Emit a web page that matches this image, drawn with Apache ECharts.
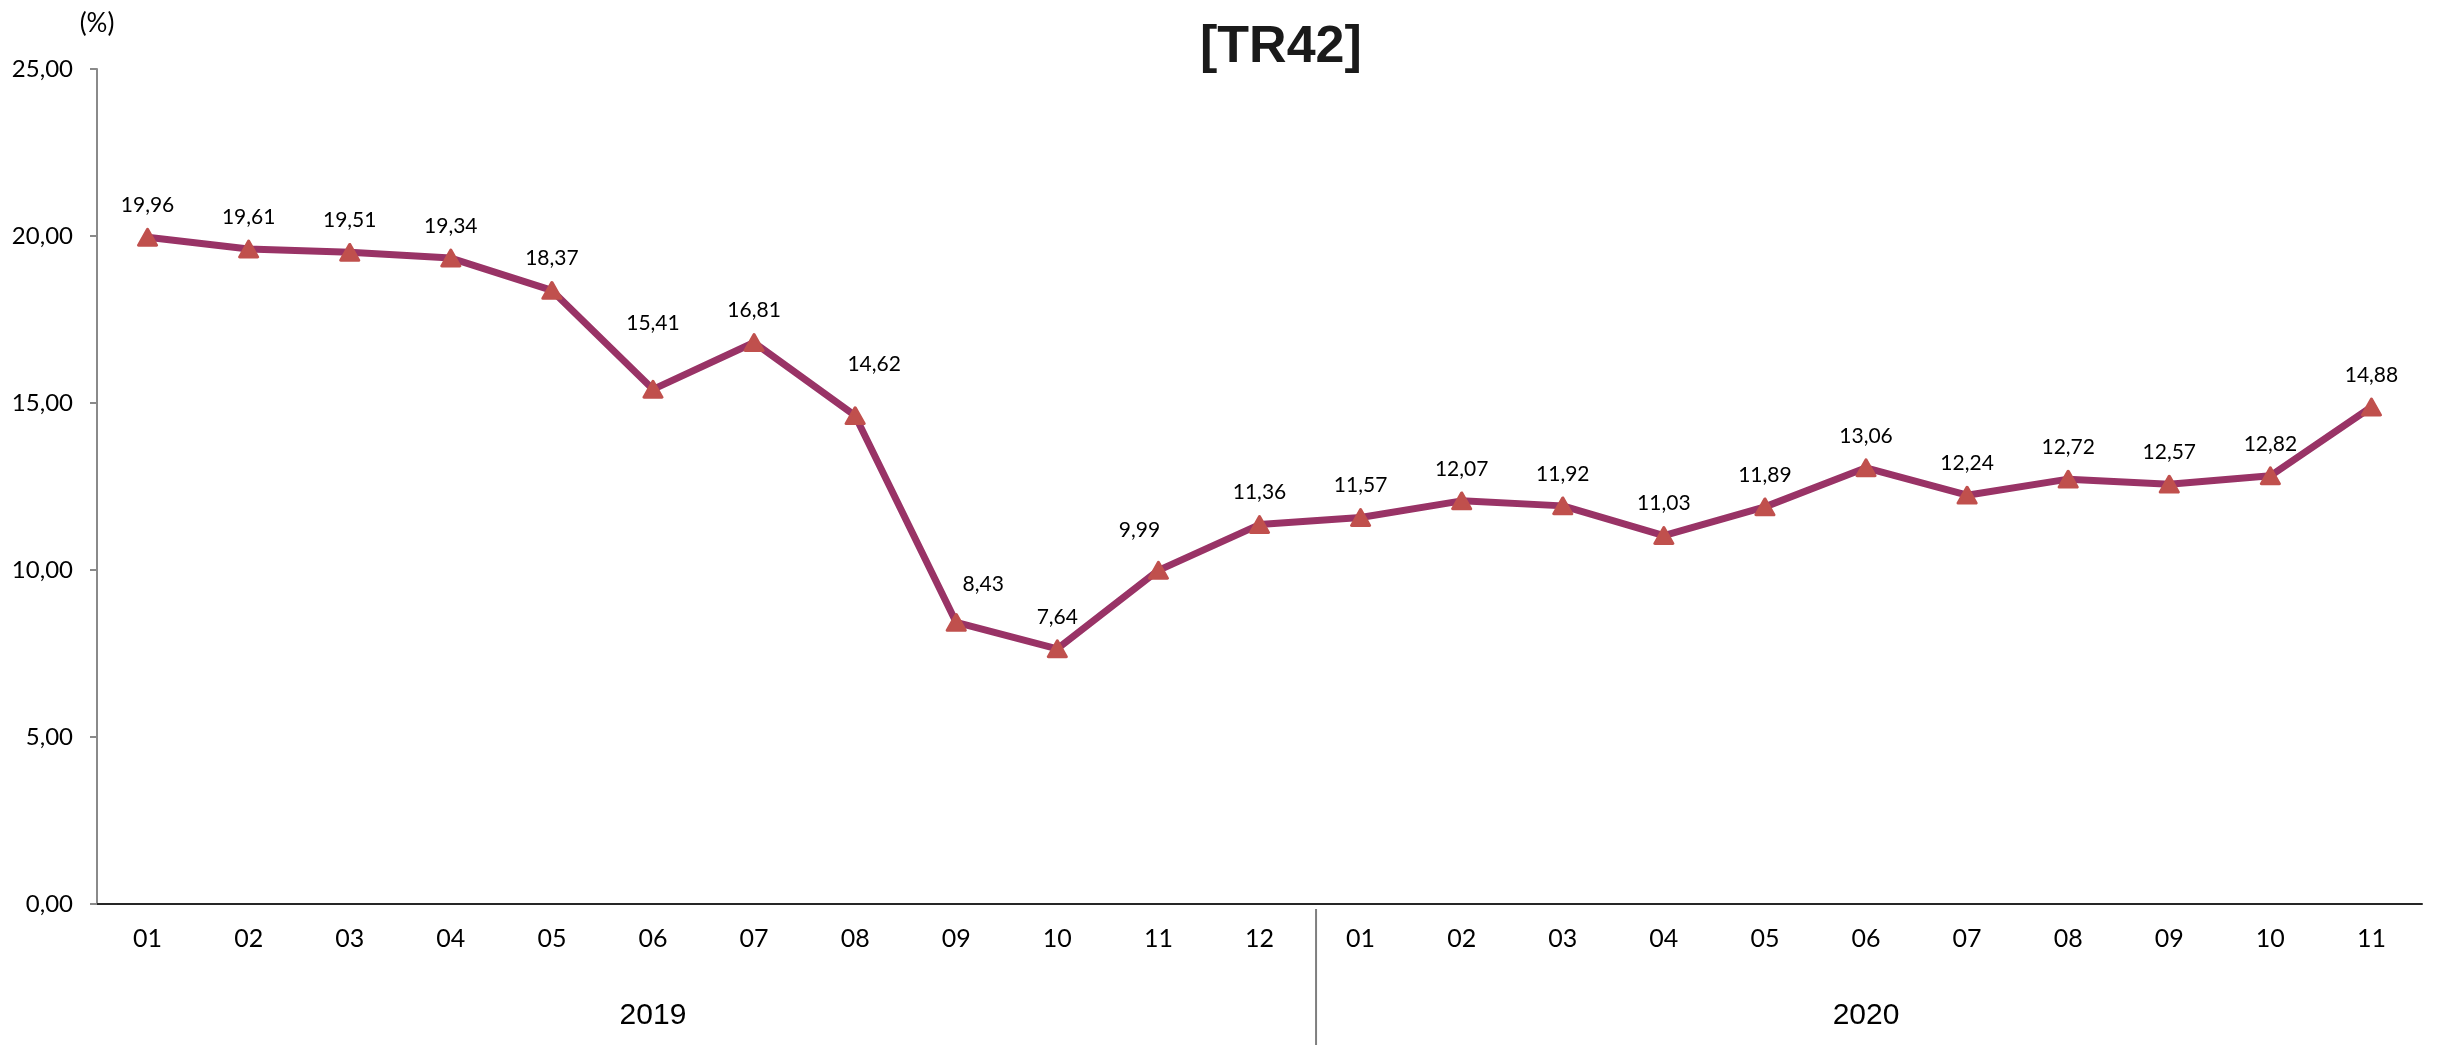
<!DOCTYPE html>
<html>
<head>
<meta charset="utf-8">
<title>TR42</title>
<script src="https://cdn.jsdelivr.net/npm/echarts@6/dist/echarts.min.js"></script>
<style>
  html, body { margin: 0; padding: 0; background: #fff; }
  #chart { width: 2445px; height: 1045px; }
</style>
</head>
<body>
<div id="chart"></div>
<script>
// aylar (2019-01 .. 2020-11)
const months = ["01", "02", "03", "04", "05", "06", "07", "08", "09", "10", "11", "12",
  "01", "02", "03", "04", "05", "06", "07", "08", "09", "10", "11"];
const rates = [19.96, 19.61, 19.51, 19.34, 18.37, 15.41, 16.81, 14.62, 8.43, 7.64, 9.99, 11.36,
  11.57, 12.07, 11.92, 11.03, 11.89, 13.06, 12.24, 12.72, 12.57, 12.82, 14.88];
const years = ["2019", "2020"];
const yearLabelIndex = [5, 17];
const yearBreakAfter = 11;

// bazi etiketler excel'de elle kaydirilmis
const labelNudge = { 5: [0, -34], 7: [19, -20], 8: [27, -6], 10: [-19, -8] };

const fmt = (v) => v.toFixed(2).replace(".", ",");
const labelFont = "Lato";

const seriesData = rates.map((v, i) =>
  labelNudge[i] ? { value: v, label: { offset: labelNudge[i] } } : v
);

const option = {
  animation: false,
  backgroundColor: "#fff",
  title: {
    text: "[TR42]",
    left: 1276 - 81,
    top: 17,
    textStyle: {
      fontFamily: "Liberation Sans",
      fontWeight: "bold",
      fontSize: 52,
      color: "#1a1a1a",
    },
  },
  grid: {
    left: 97,
    right: 23,
    top: 69,
    bottom: 141,
  },
  xAxis: [
    {
      type: "category",
      data: months,
      boundaryGap: true,
      axisLine: { lineStyle: { color: "#262626", width: 2 } },
      axisTick: { alignWithLabel: true, length: 7, lineStyle: { color: "#262626", width: 2 } },
      axisLabel: {
        interval: 0,
        margin: 22,
        fontFamily: labelFont,
        fontSize: 25,
        color: "#000",
      },
    },
    {
      type: "category",
      position: "bottom",
      data: months,
      boundaryGap: true,
      axisLine: { show: false },
      axisTick: { show: false },
      axisLabel: {
        interval: 0,
        margin: 97,
        fontFamily: "Liberation Sans",
        fontSize: 30,
        color: "#000",
        formatter: (v, i) => {
          const k = yearLabelIndex.indexOf(i);
          return k >= 0 ? years[k] : "";
        },
      },
    },
  ],
  yAxis: {
    type: "value",
    min: 0,
    max: 25,
    interval: 5,
    name: "(%)",
    nameLocation: "end",
    nameGap: 32,
    nameTextStyle: {
      fontFamily: labelFont,
      fontSize: 26,
      color: "#000",
      align: "center",
    },
    splitLine: { show: false },
    axisLine: { show: true, lineStyle: { color: "#8a8a8a", width: 2 } },
    axisTick: { show: true, length: 7, lineStyle: { color: "#8a8a8a", width: 2 } },
    axisLabel: {
      margin: 24,
      fontFamily: labelFont,
      fontSize: 24,
      color: "#000",
      formatter: fmt,
    },
  },
  series: [
    {
      type: "line",
      data: seriesData,
      xAxisIndex: 0,
      symbol: "triangle",
      symbolSize: [18, 16],
      lineStyle: { color: "#993366", width: 7 },
      itemStyle: {
        color: "#c0504d",
        borderColor: "#c0504d",
        borderWidth: 3,
        borderJoin: "round",
      },
      label: {
        show: true,
        position: "top",
        distance: 12,
        fontFamily: labelFont,
        fontSize: 21,
        color: "#000",
        formatter: (p) => fmt(p.value),
      },
      z: 3,
    },
  ],
};

const chart = echarts.init(document.getElementById("chart"));
chart.setOption(option);

// 2019 / 2020 ayirici cizgi
const xa = chart.convertToPixel({ xAxisIndex: 0 }, yearBreakAfter);
const xb = chart.convertToPixel({ xAxisIndex: 0 }, yearBreakAfter + 1);
const y0 = chart.convertToPixel({ yAxisIndex: 0 }, 0);
chart.setOption({
  graphic: [
    {
      type: "line",
      shape: { x1: (xa + xb) / 2 + 6, y1: y0 + 5, x2: (xa + xb) / 2 + 6, y2: 1045 },
      style: { stroke: "#7f7f7f", lineWidth: 2 },
    },
  ],
});
</script>
</body>
</html>
